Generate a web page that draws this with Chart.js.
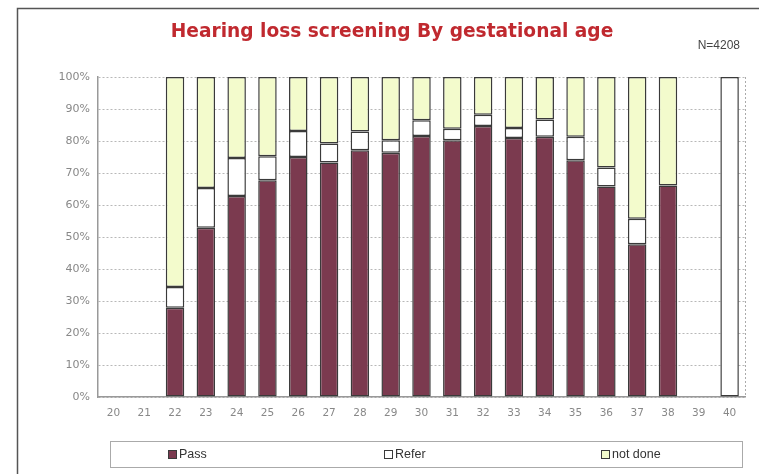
<!DOCTYPE html>
<html>
<head>
<meta charset="utf-8">
<script src="https://cdn.jsdelivr.net/npm/chart.js@4"></script>
<style>
  html, body { margin: 0; padding: 0; background: #fff; }
  #wrap { width: 759px; height: 474px; position: relative; }
</style>
</head>
<body>
<div id="wrap"><canvas id="chart" width="759" height="474"></canvas></div>
<script>
const weeks = ["20","21","22","23","24","25","26","27","28","29","30","31","32","33","34","35","36","37","38","39","40"];
// percent of babies per gestational week (null = no bar segment)
const passPct = [null,null,27.9,52.9,62.8,67.7,75.0,73.3,77.1,76.3,81.6,80.2,84.7,80.9,81.3,74.0,65.8,47.7,66.1,null,null];
const referPct = [null,null,6.5,12.4,11.9,7.5,8.1,5.9,5.9,3.9,4.9,3.6,3.5,3.2,5.4,7.3,5.9,8.0,null,null,100];
const notDonePct = [null,null,65.6,34.7,25.3,24.8,16.9,20.8,17.0,19.8,13.5,16.2,11.8,15.9,13.3,18.7,28.3,44.3,33.9,null,null];
const yTicks = ["0%","10%","20%","30%","40%","50%","60%","70%","80%","90%","100%"];

const titleText = "Hearing loss screening By gestational age";
const countText = "N=4208";

const borderDark = "#3a3a3a";

// frame, title, N label, dashed right edge, spread-out legend
const decor = {
  id: "decor",
  beforeDraw(chart) {
    const c = chart.ctx;
    c.save();
    c.strokeStyle = "#555";
    c.lineWidth = 1.5;
    c.strokeRect(17.5, 8.5, 760, 480);
    c.restore();
  },
  afterDraw(chart) {
    const c = chart.ctx;
    const a = chart.chartArea;
    c.save();
    c.strokeStyle = "#aaa";
    c.lineWidth = 1;
    c.setLineDash([2, 2]);
    c.beginPath();
    c.moveTo(a.right + 0.5, a.top);
    c.lineTo(a.right + 0.5, a.bottom);
    c.stroke();
    c.setLineDash([]);

    c.fillStyle = "#c0292f";
    c.font = "bold 18.6px 'DejaVu Sans'";
    c.textAlign = "center";
    c.textBaseline = "middle";
    c.fillText(titleText, 392, 32);

    c.fillStyle = "#444";
    c.font = "12px 'Liberation Sans'";
    c.textAlign = "right";
    c.fillText(countText, 740, 46);

    // legend box
    c.strokeStyle = "#aaa";
    c.strokeRect(110.5, 441.5, 632, 26);
    const xs = [168, 384, 601];
    chart.data.datasets.forEach((ds, i) => {
      c.fillStyle = ds.backgroundColor;
      c.fillRect(xs[i], 450, 9, 9);
      c.strokeStyle = borderDark;
      c.lineWidth = 1;
      c.strokeRect(xs[i] + 0.5, 450.5, 8, 8);
      c.fillStyle = "#333";
      c.font = "12.5px 'Liberation Sans'";
      c.textAlign = "left";
      c.fillText(ds.label, xs[i] + 11, 455);
    });
    c.restore();
  }
};

new Chart(document.getElementById("chart"), {
  type: "bar",
  data: {
    labels: weeks,
    datasets: [
      { label: "Pass", data: passPct, backgroundColor: "#7b3a4f" },
      { label: "Refer", data: referPct, backgroundColor: "#ffffff" },
      { label: "not done", data: notDonePct, backgroundColor: "#f3fbcc" }
    ].map(d => Object.assign(d, {
      borderColor: borderDark,
      borderWidth: 1.5,
      borderSkipped: false,
      barPercentage: 0.6,
      categoryPercentage: 1
    }))
  },
  options: {
    responsive: false,
    animation: false,
    layout: { padding: { left: 0, top: 77, right: 14, bottom: 57 } },
    plugins: { legend: { display: false }, title: { display: false }, tooltip: { enabled: false } },
    scales: {
      x: {
        stacked: true,
        grid: { display: false, drawTicks: false },
        border: { color: "#999", width: 1.5 },
        ticks: { color: "#888", font: { family: "DejaVu Sans", size: 10.5 }, padding: 10, maxRotation: 0 },
        afterFit: s => { s.width = s.width; s.height = 20; }
      },
      y: {
        stacked: true,
        min: 0,
        max: 100,
        afterBuildTicks: axis => { axis.ticks = yTicks.map((t, i) => ({ value: i * 10 })); },
        grid: { color: "#b8b8b8", drawTicks: false, lineWidth: 1 },
        border: { color: "#999", width: 1.5, dash: [2, 2] },
        ticks: {
          color: "#888",
          font: { family: "DejaVu Sans", size: 11 },
          padding: 8,
          callback: (v) => yTicks[Math.round(v / 10)]
        },
        afterFit: s => { s.width = 98; }
      }
    }
  },
  plugins: [decor]
});
</script>
</body>
</html>
